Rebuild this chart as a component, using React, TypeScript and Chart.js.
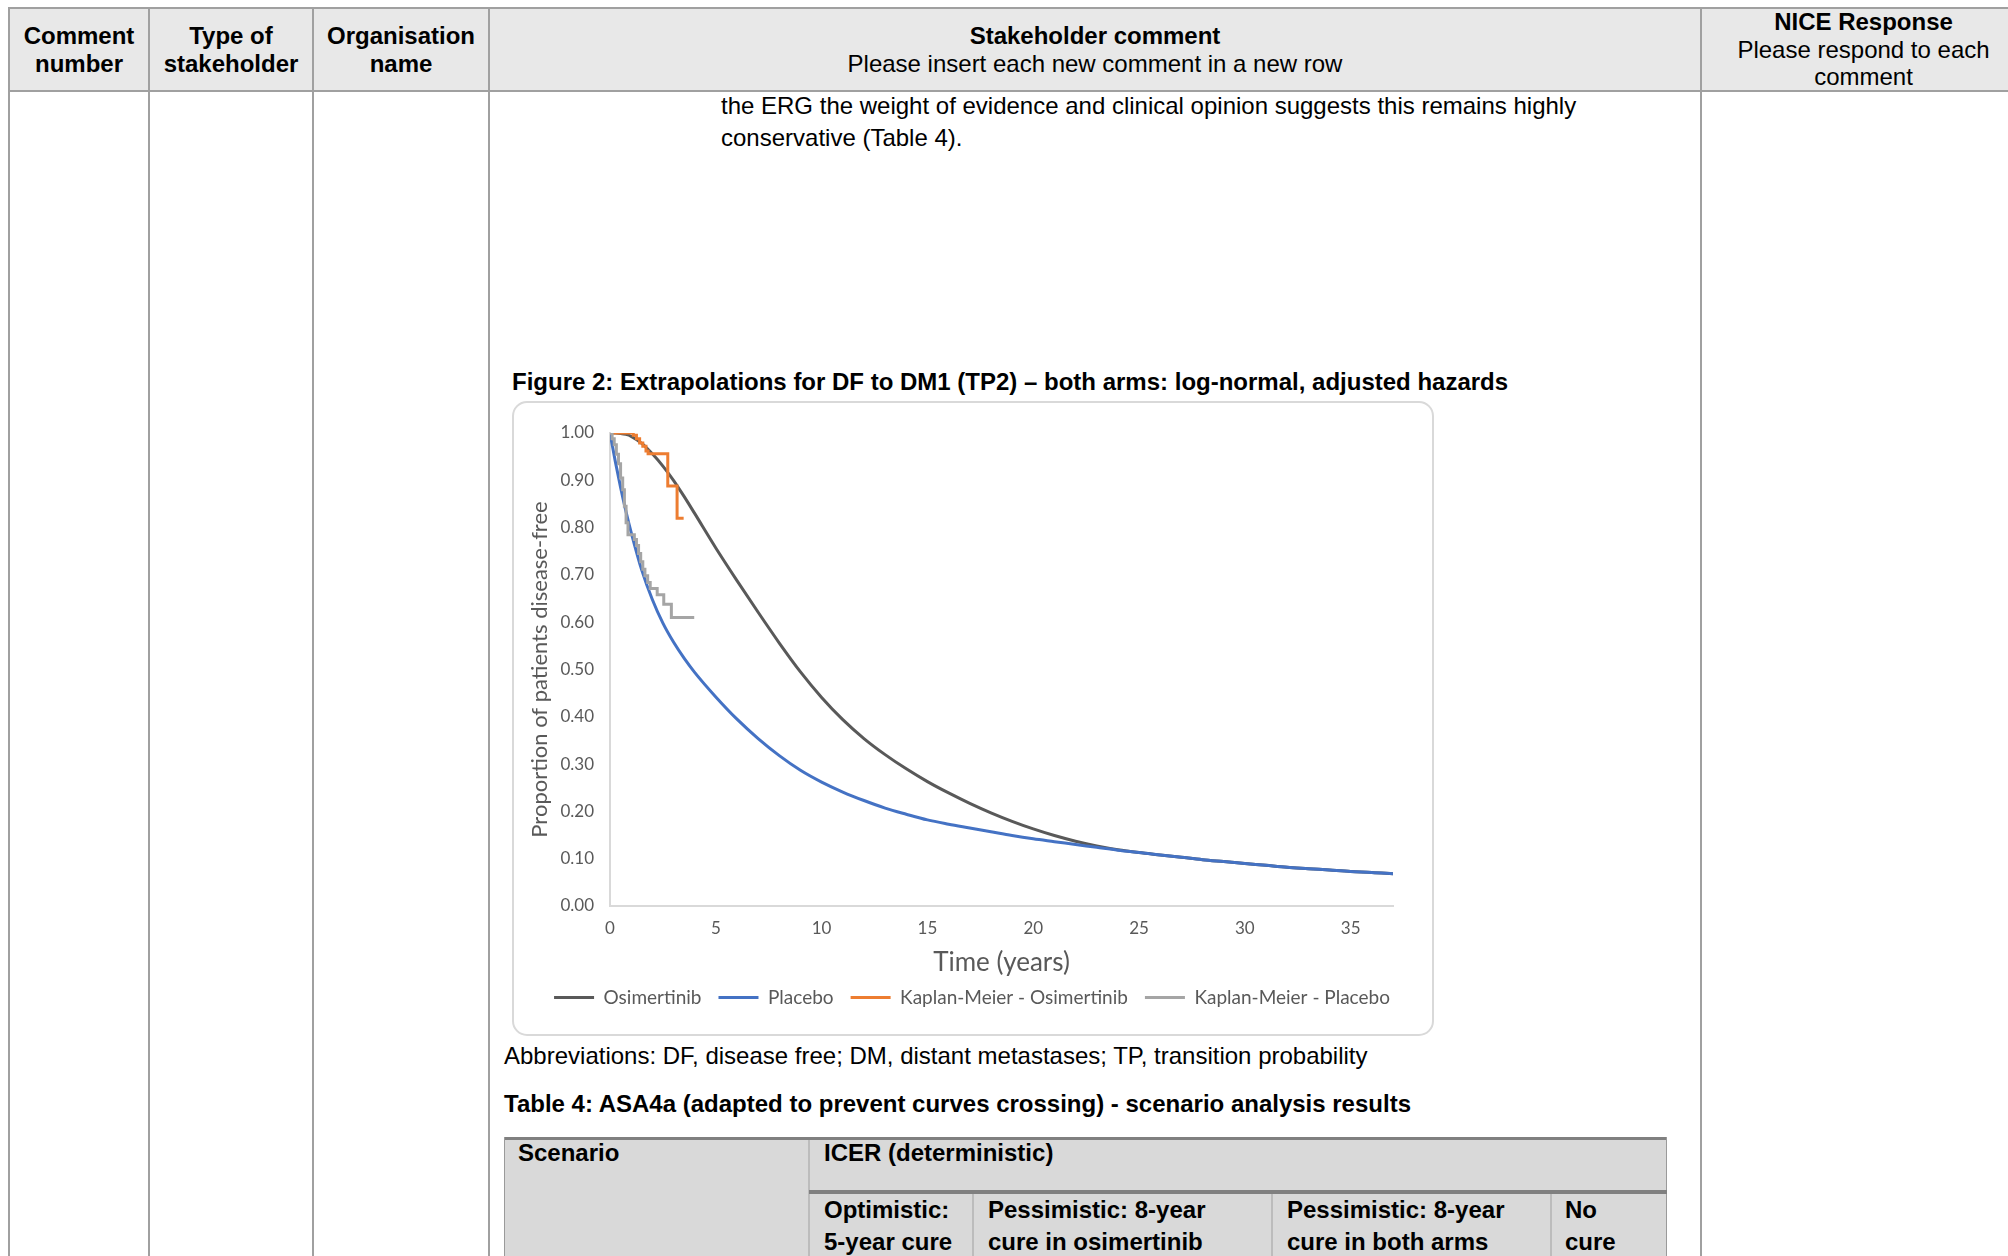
import React, { useEffect, useRef } from "react";
import { Chart, registerables } from "chart.js";

Chart.register(...registerables);

// ---- Chart data ----
const seriesNames = [
  "Osimertinib",
  "Placebo",
  "Kaplan-Meier - Osimertinib",
  "Kaplan-Meier - Placebo",
];
const seriesColors = ["#595959", "#4472C4", "#ED7D31", "#A5A5A5"];

const modelTimes = [
  0, 0.25, 0.5, 0.75, 1, 1.5, 2, 2.5, 3, 3.5, 4, 5, 6, 7, 8, 9, 10, 11, 12, 13,
  14, 15, 16, 17, 18, 19, 20, 21, 22, 23, 24, 25, 26, 27, 28, 29, 30, 31, 32,
  33, 34, 35, 36, 37,
];
const osimertinibModel = [
  1.0, 1.0, 0.999, 0.997, 0.993, 0.978, 0.956, 0.93, 0.9, 0.866, 0.83, 0.757,
  0.688, 0.621, 0.556, 0.495, 0.441, 0.394, 0.354, 0.32, 0.29, 0.263, 0.239,
  0.217, 0.197, 0.179, 0.163, 0.149, 0.137, 0.127, 0.119, 0.113, 0.108, 0.103,
  0.098, 0.094, 0.09, 0.086, 0.082, 0.079, 0.076, 0.073, 0.071, 0.068,
];
const placeboModel = [
  1.0, 0.94, 0.885, 0.835, 0.79, 0.71, 0.648, 0.598, 0.558, 0.524, 0.494,
  0.442, 0.395, 0.354, 0.318, 0.287, 0.262, 0.241, 0.223, 0.207, 0.194, 0.182,
  0.173, 0.165, 0.157, 0.149, 0.142, 0.136, 0.13, 0.124, 0.118, 0.113, 0.108,
  0.103, 0.098, 0.094, 0.09, 0.086, 0.082, 0.079, 0.076, 0.073, 0.071, 0.068,
];
const kmOsimTimes = [0, 1.1, 1.25, 1.4, 1.55, 1.7, 1.8, 2.73, 3.17, 3.48];
const kmOsimValues = [1.0, 0.995, 0.988, 0.979, 0.972, 0.962, 0.956, 0.888, 0.82, 0.82];
const kmPlaceboTimes = [
  0, 0.1, 0.2, 0.3, 0.4, 0.5, 0.6, 0.68, 0.76, 0.85, 1.15, 1.25, 1.35, 1.45,
  1.55, 1.65, 1.78, 1.9, 2.23, 2.54, 2.9, 3.98,
];
const kmPlaceboValues = [
  1.0, 0.988, 0.975, 0.955, 0.935, 0.905, 0.88, 0.845, 0.81, 0.785, 0.775,
  0.762, 0.745, 0.728, 0.712, 0.698, 0.684, 0.671, 0.658, 0.638, 0.61, 0.61,
];
const xAxisMax = 37;
const xTickStep = 5;
const yTickStep = 0.1;
const xAxisTitle = "Time (years)";
const yAxisTitle = "Proportion of patients disease-free";

const pts = (xs: number[], ys: number[]) => xs.map((x, i) => ({ x, y: ys[i] }));

const DOC_FONT = "'Liberation Sans', Arial, sans-serif";
const CHART_FONT = "Lato";
const LINE = "#a0a0a0";
const LEGEND_SHIFT = 19.5;

// draws the (full-width) legend shifted right so it is centred like the original figure
const legendShift = {
  id: "legendShift",
  afterLayout(chart: any) {
    const lg = chart.legend;
    if (lg && !lg.__shifted) {
      const orig = lg.draw.bind(lg);
      lg.draw = (...args: any[]) => {
        const ctx = chart.ctx;
        ctx.save();
        ctx.translate(LEGEND_SHIFT, 0);
        orig(...args);
        ctx.restore();
      };
      lg.__shifted = true;
    }
  },
};

function ChartCanvas() {
  const ref = useRef<HTMLCanvasElement | null>(null);
  useEffect(() => {
    if (!ref.current) return;
    const mk = (i: number, xs: number[], ys: number[], extra: any) => ({
      label: seriesNames[i],
      data: pts(xs, ys),
      borderColor: seriesColors[i],
      backgroundColor: seriesColors[i],
      borderWidth: 3,
      pointRadius: 0,
      showLine: true,
      ...extra,
    });
    const chart = new Chart(ref.current, {
      type: "scatter",
      data: {
        datasets: [
          mk(0, modelTimes, osimertinibModel, { cubicInterpolationMode: "monotone", order: 4 }),
          mk(1, modelTimes, placeboModel, { cubicInterpolationMode: "monotone", order: 3 }),
          mk(2, kmOsimTimes, kmOsimValues, { stepped: true, order: 2 }),
          mk(3, kmPlaceboTimes, kmPlaceboValues, { stepped: true, order: 1 }),
        ],
      } as any,
      options: {
        responsive: false,
        animation: false,
        events: [],
        layout: { padding: { left: 0, right: 41, top: 32, bottom: 18.9 } },
        scales: {
          x: {
            type: "linear",
            min: 0,
            max: xAxisMax,
            ticks: {
              stepSize: xTickStep,
              includeBounds: false,
              padding: 12,
              color: "#595959",
              font: { family: CHART_FONT, size: 17 },
            },
            grid: { display: false, drawTicks: false },
            border: { display: true, color: "#D9D9D9", width: 2 },
            title: {
              display: true,
              text: xAxisTitle,
              color: "#595959",
              font: { family: CHART_FONT, size: 26 },
              padding: { top: 0, bottom: -7.5 },
            },
            afterFit: (s: any) => {
              s.height = 65.1;
            },
          },
          y: {
            type: "linear",
            min: 0,
            max: 1,
            ticks: {
              stepSize: yTickStep,
              padding: 16,
              color: "#595959",
              font: { family: CHART_FONT, size: 17 },
              callback: (v: any) => Number(v).toFixed(2),
            },
            grid: { display: false, drawTicks: false },
            border: { display: true, color: "#D9D9D9", width: 2 },
            title: {
              display: true,
              text: yAxisTitle,
              color: "#595959",
              font: { family: CHART_FONT, size: 22 },
              padding: { top: 14.8, bottom: 0 },
            },
            afterFit: (s: any) => {
              s.width = 98;
            },
          },
        },
        plugins: {
          legend: {
            position: "bottom",
            labels: {
              usePointStyle: true,
              pointStyle: "line",
              pointStyleWidth: 40,
              padding: 17,
              color: "#595959",
              font: { family: CHART_FONT, size: 19 },
              sort: (a: any, b: any) => a.datasetIndex - b.datasetIndex,
            },
          },
          tooltip: { enabled: false },
        },
      } as any,
      plugins: [legendShift],
    });
    return () => chart.destroy();
  }, []);
  return (
    <canvas
      ref={ref}
      width={922}
      height={635}
      style={{ position: "absolute", left: 512, top: 401, width: 922, height: 635 }}
    />
  );
}

const abs = (l: number, t: number, w: number, h: number, extra: any = {}) => ({
  position: "absolute" as const,
  left: l,
  top: t,
  width: w,
  height: h,
  ...extra,
});

function HeaderCell({ left, width, children, top = 8, height = 83 }: any) {
  return (
    <div
      style={abs(left, top, width, height, {
        display: "flex",
        flexDirection: "column",
        alignItems: "center",
        justifyContent: "center",
        textAlign: "center",
        lineHeight: "27.6px",
        fontSize: 24,
      })}
    >
      {children}
    </div>
  );
}

const bodyText = (extra: any = {}) => ({
  fontSize: 24,
  lineHeight: "32px",
  whiteSpace: "nowrap",
  ...extra,
});

export default function App() {
  const colLines = [8, 148, 312, 488, 1700];
  return (
    <div
      style={{
        position: "relative",
        width: 2008,
        height: 1256,
        overflow: "hidden",
        background: "#fff",
        fontFamily: DOC_FONT,
        color: "#000",
      }}
    >
      <style>{"body{margin:0;}"}</style>
      {/* header fill */}
      <div style={abs(8, 8, 2000, 83, { background: "#E8E8E8" })} />
      {/* table lines */}
      <div style={abs(8, 7, 2000, 2, { background: LINE })} />
      <div style={abs(8, 90, 2000, 2, { background: LINE })} />
      {colLines.map((x) => (
        <div key={x} style={abs(x, 7, 2, 1256, { background: LINE })} />
      ))}

      <HeaderCell left={10} width={138}>
        <b>Comment</b>
        <b>number</b>
      </HeaderCell>
      <HeaderCell left={150} width={162}>
        <b>Type of</b>
        <b>stakeholder</b>
      </HeaderCell>
      <HeaderCell left={314} width={174}>
        <b>Organisation</b>
        <b>name</b>
      </HeaderCell>
      <HeaderCell left={490} width={1210}>
        <b>Stakeholder comment</b>
        <span>Please insert each new comment in a new row</span>
      </HeaderCell>
      <HeaderCell left={1702} width={323}>
        <b>NICE Response</b>
        <span>Please respond to each</span>
        <span>comment</span>
      </HeaderCell>

      {/* body text */}
      <div style={abs(721, 90, 960, 64, bodyText())}>
        the ERG the weight of evidence and clinical opinion suggests this remains highly
        <br />
        conservative (Table 4).
      </div>

      <div style={abs(512, 366, 1100, 32, bodyText({ fontWeight: "bold" }))}>
        Figure 2: Extrapolations for DF to DM1 (TP2) – both arms: log-normal, adjusted hazards
      </div>

      {/* chart frame */}
      <div
        style={abs(512, 401, 922, 635, {
          border: "2px solid #D9D9D9",
          borderRadius: 15,
          boxSizing: "border-box",
        })}
      />
      <ChartCanvas />

      <div style={abs(504, 1040, 1100, 32, bodyText())}>
        Abbreviations: DF, disease free; DM, distant metastases; TP, transition probability
      </div>
      <div style={abs(504, 1088, 1100, 32, bodyText({ fontWeight: "bold" }))}>
        Table 4: ASA4a (adapted to prevent curves crossing) - scenario analysis results
      </div>

      {/* Table 4 */}
      <div style={abs(504, 1138, 1163, 130, { background: "#D9D9D9" })} />
      <div style={abs(504, 1137, 1163, 3, { background: "#808080" })} />
      <div style={abs(504, 1137, 1, 130, { background: "#9a9a9a" })} />
      <div style={abs(1666, 1137, 1, 130, { background: "#9a9a9a" })} />
      <div style={abs(808, 1140, 2, 130, { background: "#bcbcbc" })} />
      <div style={abs(809, 1190, 858, 4, { background: "#808080" })} />
      <div style={abs(972, 1194, 2, 80, { background: "#bcbcbc" })} />
      <div style={abs(1271, 1194, 2, 80, { background: "#bcbcbc" })} />
      <div style={abs(1550, 1194, 2, 80, { background: "#bcbcbc" })} />

      <div style={abs(518, 1137, 280, 32, bodyText({ fontWeight: "bold" }))}>Scenario</div>
      <div style={abs(824, 1137, 600, 32, bodyText({ fontWeight: "bold" }))}>ICER (deterministic)</div>
      <div style={abs(824, 1194, 150, 64, bodyText({ fontWeight: "bold" }))}>
        Optimistic:
        <br />
        5-year cure
      </div>
      <div style={abs(988, 1194, 280, 64, bodyText({ fontWeight: "bold" }))}>
        Pessimistic: 8-year
        <br />
        cure in osimertinib
      </div>
      <div style={abs(1287, 1194, 260, 64, bodyText({ fontWeight: "bold" }))}>
        Pessimistic: 8-year
        <br />
        cure in both arms
      </div>
      <div style={abs(1565, 1194, 100, 64, bodyText({ fontWeight: "bold" }))}>
        No
        <br />
        cure
      </div>
    </div>
  );
}
